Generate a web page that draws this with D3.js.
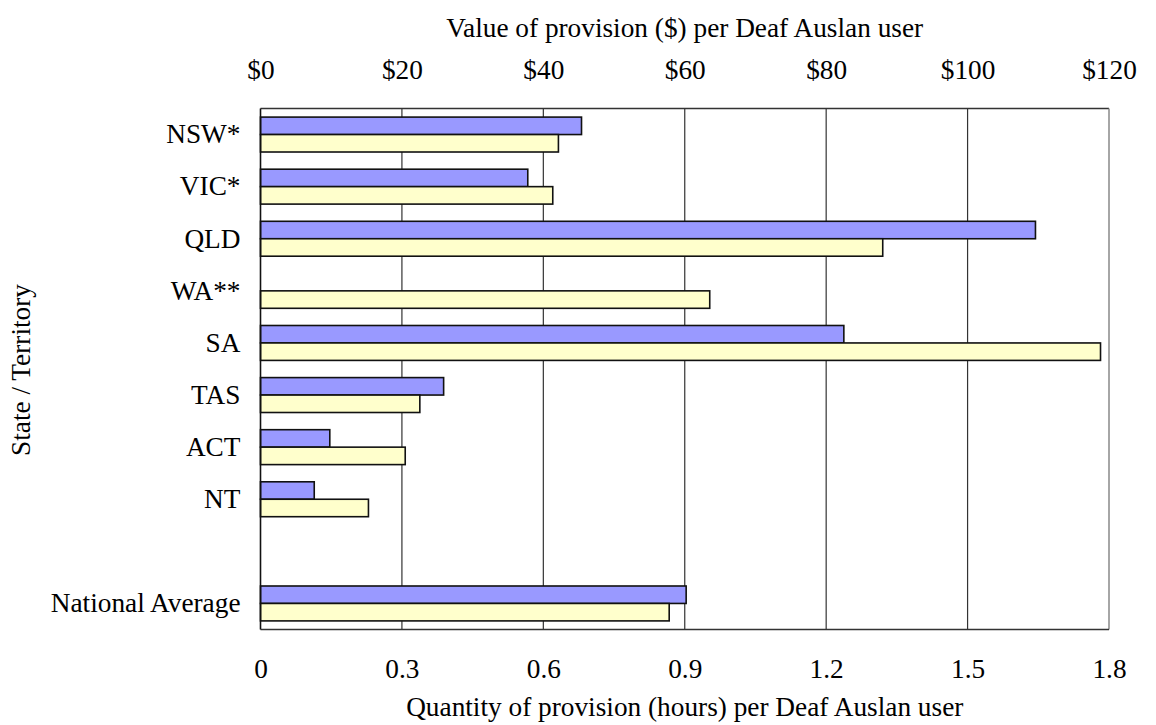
<!DOCTYPE html>
<html><head><meta charset="utf-8">
<script src="https://cdn.jsdelivr.net/npm/d3@7"></script>
<style>
html,body{margin:0;padding:0;background:#fff;}
svg text{font-family:"Liberation Serif","Times New Roman",serif;fill:#000;}
</style></head>
<body><svg id="c" width="1156" height="725"></svg>
<script>
const categories = ["NSW*","VIC*","QLD","WA**","SA","TAS","ACT","NT","","National Average"];
const valueDollars = [45.4, 37.8, 109.6, null, 82.5, 25.9, 9.8, 7.6, null, 60.2];
const quantityHours = [0.632, 0.620, 1.320, 0.953, 1.782, 0.338, 0.307, 0.229, null, 0.867];
const dollarTicks = [0, 20, 40, 60, 80, 100, 120];
const hourTicks = [0, 0.3, 0.6, 0.9, 1.2, 1.5, 1.8];

(function () {
const svg = d3.select("#c");
const L = 260.5, R = 1109, T = 108.5, B = 629.5;
const FS = "27.3px";

const xH = d3.scaleLinear().domain([0, 1.8]).range([L, R]);
const xD = d3.scaleLinear().domain([0, 120]).range([L, R]);
const keys = categories.map((c, i) => i);
const y = d3.scaleBand().domain(keys).range([T, B]).paddingInner(0.33).paddingOuter(0.165);
const sub = d3.scaleBand().domain(["d", "h"]).range([0, y.bandwidth()]);

// gridlines
svg.append("g").selectAll("line").data(hourTicks.slice(1, -1)).join("line")
  .attr("x1", d => xH(d)).attr("x2", d => xH(d)).attr("y1", T).attr("y2", B)
  .attr("stroke", "#333").attr("stroke-width", 1.2);

// plot border
svg.append("line").attr("x1", L).attr("x2", R).attr("y1", T).attr("y2", T).attr("stroke", "#333").attr("stroke-width", 1.5);
svg.append("line").attr("x1", R).attr("x2", R).attr("y1", T).attr("y2", B).attr("stroke", "#888").attr("stroke-width", 1.5);
svg.append("line").attr("x1", L).attr("x2", R).attr("y1", B).attr("y2", B).attr("stroke", "#333").attr("stroke-width", 1.5);

// bars
const g = svg.append("g");
g.selectAll("rect.d").data(keys.filter(i => valueDollars[i] != null)).join("rect")
  .attr("class", "d")
  .attr("x", L).attr("y", i => y(i) + sub("d"))
  .attr("width", i => xD(valueDollars[i]) - L).attr("height", sub.bandwidth())
  .attr("fill", "#9999ff").attr("stroke", "#111").attr("stroke-width", 1.6);
g.selectAll("rect.h").data(keys.filter(i => quantityHours[i] != null)).join("rect")
  .attr("class", "h")
  .attr("x", L).attr("y", i => y(i) + sub("h"))
  .attr("width", i => xH(quantityHours[i]) - L).attr("height", sub.bandwidth())
  .attr("fill", "#ffffcc").attr("stroke", "#111").attr("stroke-width", 1.6);

// left axis line
svg.append("line").attr("x1", L).attr("x2", L).attr("y1", T).attr("y2", B).attr("stroke", "#111").attr("stroke-width", 1.6);

// axes via d3
const axBottom = svg.append("g").attr("transform", `translate(0,${B})`)
  .call(d3.axisBottom(xH).tickValues(hourTicks).tickFormat(d => d === 0 ? "0" : d3.format(".1f")(d)).tickSize(0).tickPadding(29));
const axTop = svg.append("g").attr("transform", `translate(0,${T})`)
  .call(d3.axisTop(xD).tickValues(dollarTicks).tickFormat(d => "$" + d).tickSize(0).tickPadding(30));
const axLeft = svg.append("g").attr("transform", `translate(${L},0)`)
  .call(d3.axisLeft(y).tickFormat(i => categories[i]).tickSize(0).tickPadding(20));
[axBottom, axTop, axLeft].forEach(a => {
  a.attr("font-family", null);
  a.select(".domain").remove();
  a.selectAll("text").style("font-size", FS).style("font-family", '"Liberation Serif","Times New Roman",serif').attr("fill", "#000");
});

// titles
svg.append("text").attr("x", (L + R) / 2).attr("y", 37).attr("text-anchor", "middle").style("font-size", FS)
  .text("Value of provision ($) per Deaf Auslan user");
svg.append("text").attr("x", (L + R) / 2).attr("y", 716).attr("text-anchor", "middle").style("font-size", FS)
  .text("Quantity of provision (hours) per Deaf Auslan user");
svg.append("text").attr("transform", "translate(30,370) rotate(-90)").attr("text-anchor", "middle").style("font-size", FS)
  .text("State / Territory");
})();
</script></body></html>
